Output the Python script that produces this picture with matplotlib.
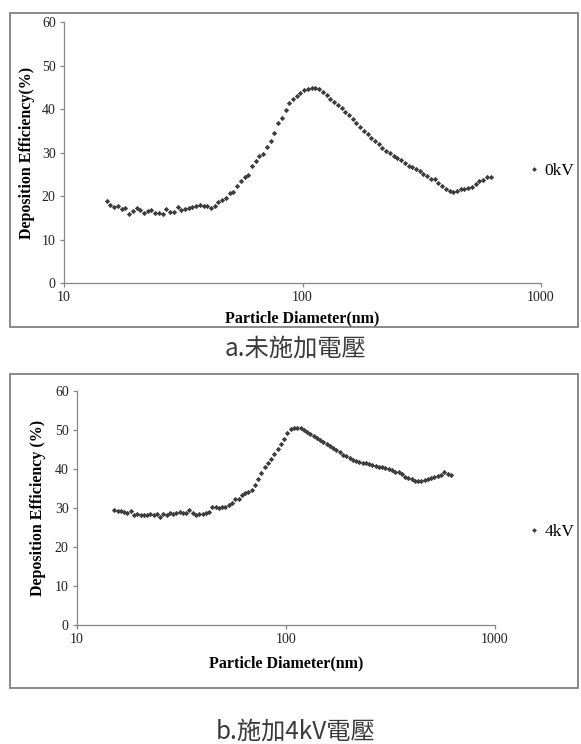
import numpy as np
import matplotlib
matplotlib.use("Agg")
import matplotlib.pyplot as plt
from matplotlib.patches import Rectangle

# --- Datos ---
diametro = [15.10, 15.65, 16.23, 16.82, 17.44, 18.08, 18.74, 19.42, 20.14, 20.87,
            21.64, 22.43, 23.25, 24.10, 24.99, 25.90, 26.85, 27.84, 28.86, 29.91,
            31.01, 32.14, 33.32, 34.54, 35.81, 37.12, 38.48, 39.89, 41.35, 42.86,
            44.43, 46.06, 47.75, 49.49, 51.32, 53.19, 55.15, 57.17, 59.26, 61.41,
            63.69, 66.00, 68.43, 70.93, 73.52, 76.21, 79.02, 81.90, 84.91, 88.04,
            91.26, 94.58, 98.06, 101.6, 105.4, 109.2, 113.2, 117.4, 121.7, 126.1,
            130.8, 135.5, 140.5, 145.7, 151.0, 156.5, 162.3, 168.2, 174.4, 180.8,
            187.4, 194.2, 201.4, 208.7, 216.4, 224.3, 232.5, 241.0, 249.9, 259.0,
            268.5, 278.4, 288.6, 299.1, 310.1, 321.4, 333.2, 345.4, 358.1, 371.2,
            384.8, 398.9, 413.5, 428.6, 444.3, 460.6, 477.5, 494.9, 513.2, 531.9,
            551.5, 571.7, 592.6, 614.1]

eficiencia_0kv = [18.8, 17.9, 17.4, 17.6, 17.0, 17.3, 15.9, 16.5, 17.2, 16.8,
                  16.2, 16.5, 16.8, 16.1, 16.2, 15.8, 17.0, 16.4, 16.3, 17.5,
                  16.9, 17.1, 17.2, 17.4, 17.6, 18.0, 17.6, 17.7, 17.3, 17.7,
                  18.6, 19.1, 19.6, 20.8, 21.0, 22.3, 23.5, 24.3, 24.8, 26.9,
                  28.1, 29.3, 29.6, 31.2, 32.6, 34.6, 36.8, 37.9, 39.8, 41.3,
                  42.2, 42.9, 43.7, 44.3, 44.6, 44.9, 44.9, 44.5, 43.9, 43.2,
                  42.4, 41.6, 40.9, 40.2, 39.4, 38.6, 37.7, 36.7, 35.9, 35.0,
                  34.2, 33.4, 32.6, 31.9, 31.0, 30.4, 29.8, 29.3, 28.8, 28.3,
                  27.6, 27.0, 26.7, 26.1, 25.7, 25.1, 24.5, 24.0, 23.8, 23.0,
                  22.4, 21.7, 21.2, 21.0, 21.2, 21.6, 21.7, 21.9, 22.0, 22.7,
                  23.4, 23.6, 24.3, 24.3]

eficiencia_4kv = [29.4, 29.2, 29.3, 29.0, 28.6, 29.1, 28.3, 28.5, 28.1, 28.3,
                  28.2, 28.4, 28.1, 28.4, 27.8, 28.5, 28.3, 28.6, 28.5, 28.7,
                  28.9, 28.8, 28.7, 29.4, 28.6, 28.3, 28.4, 28.5, 28.7, 29.0,
                  30.2, 30.2, 30.1, 30.2, 30.3, 30.7, 31.2, 32.2, 32.4, 33.4,
                  33.9, 34.2, 34.6, 36.0, 37.3, 39.0, 40.5, 41.5, 42.6, 43.8,
                  45.2, 46.5, 47.8, 49.3, 50.2, 50.4, 50.5, 50.6, 49.9, 49.4,
                  48.9, 48.4, 47.9, 47.4, 46.9, 46.4, 45.9, 45.4, 44.9, 44.3,
                  43.7, 43.3, 42.8, 42.4, 42.1, 41.8, 41.6, 41.6, 41.3, 41.0,
                  40.8, 40.6, 40.4, 40.3, 40.0, 39.7, 39.3, 39.1, 38.6, 38.0,
                  37.6, 37.3, 37.0, 37.0, 37.0, 37.1, 37.4, 37.8, 38.0, 38.1,
                  38.4, 39.1, 38.8, 38.5]

yticks = [0, 10, 20, 30, 40, 50, 60]
xticks = [10, 100, 1000]
xticklabels = ["10", "100", "1000"]

serif = ["Liberation Serif", "DejaVu Serif"]
cjk = ["Noto Sans CJK TC", "DejaVu Sans"]
gris = "#868686"
punto = "#3c3c3c"

fig = plt.figure(figsize=(5.81, 7.44), dpi=100)

# marcos exteriores de cada panel
for y0 in [0.5605, 0.0753]:
    fig.patches.append(Rectangle((0.0172, y0), 0.978, 0.4215, transform=fig.transFigure,
                                 fill=False, edgecolor="#808080", linewidth=1.3))


def panel(rect, valores, etiqueta, ylabel, xlab_y, ylab_x, leg_y):
    ax = fig.add_axes(rect)
    ax.plot(diametro, valores, linestyle="none", marker="D", markersize=2.7,
            color=punto, markeredgewidth=0, label=etiqueta)
    ax.set_xscale("log")
    ax.set_xlim(10, 1000)
    ax.set_ylim(0, 60)
    ax.set_xticks(xticks)
    ax.set_xticklabels(xticklabels)
    ax.xaxis.set_minor_locator(matplotlib.ticker.NullLocator())
    ax.set_yticks(yticks)
    for s in ["top", "right"]:
        ax.spines[s].set_visible(False)
    for s in ["left", "bottom"]:
        ax.spines[s].set_color(gris)
        ax.spines[s].set_linewidth(0.9)
    ax.tick_params(direction="out", length=3, width=0.9, color=gris, pad=3,
                   labelsize=10, labelcolor="#222222")
    for t in ax.get_xticklabels() + ax.get_yticklabels():
        t.set_family(serif)
    cx = rect[0] + rect[2] / 2
    cy = rect[1] + rect[3] / 2
    fig.text(cx, xlab_y, "Particle Diameter(nm)", ha="center", va="center",
             family=serif, fontsize=11.5, fontweight="bold")
    fig.text(ylab_x, cy, ylabel, ha="center", va="center", rotation=90,
             family=serif, fontsize=11.5, fontweight="bold")
    ax.legend(loc="center left", bbox_to_anchor=(0.9105, leg_y),
              bbox_transform=fig.transFigure, frameon=False,
              handlelength=0.55, handletextpad=0.35, borderpad=0,
              borderaxespad=0, markerscale=0.9,
              prop={"family": serif, "size": 12.5})
    return ax


panel([0.1102, 0.6196, 0.8210, 0.3508], eficiencia_0kv, "0kV",
      "Deposition Efficiency(%)", 0.5726, 0.046, 0.770)
panel([0.1325, 0.1600, 0.7195, 0.3145], eficiencia_4kv, "4kV",
      "Deposition Efficiency (%)", 0.109, 0.066, 0.285)

# títulos de cada panel
fig.text(0.509, 0.531, "a.未施加電壓", ha="center", va="center",
         family=cjk, fontsize=17.5, fontweight="light", color="#3a3a3a")
fig.text(0.509, 0.0165, "b.施加4kV電壓", ha="center", va="center",
         family=cjk, fontsize=17.5, fontweight="light", color="#3a3a3a")

fig.savefig("out.png", dpi=100)
